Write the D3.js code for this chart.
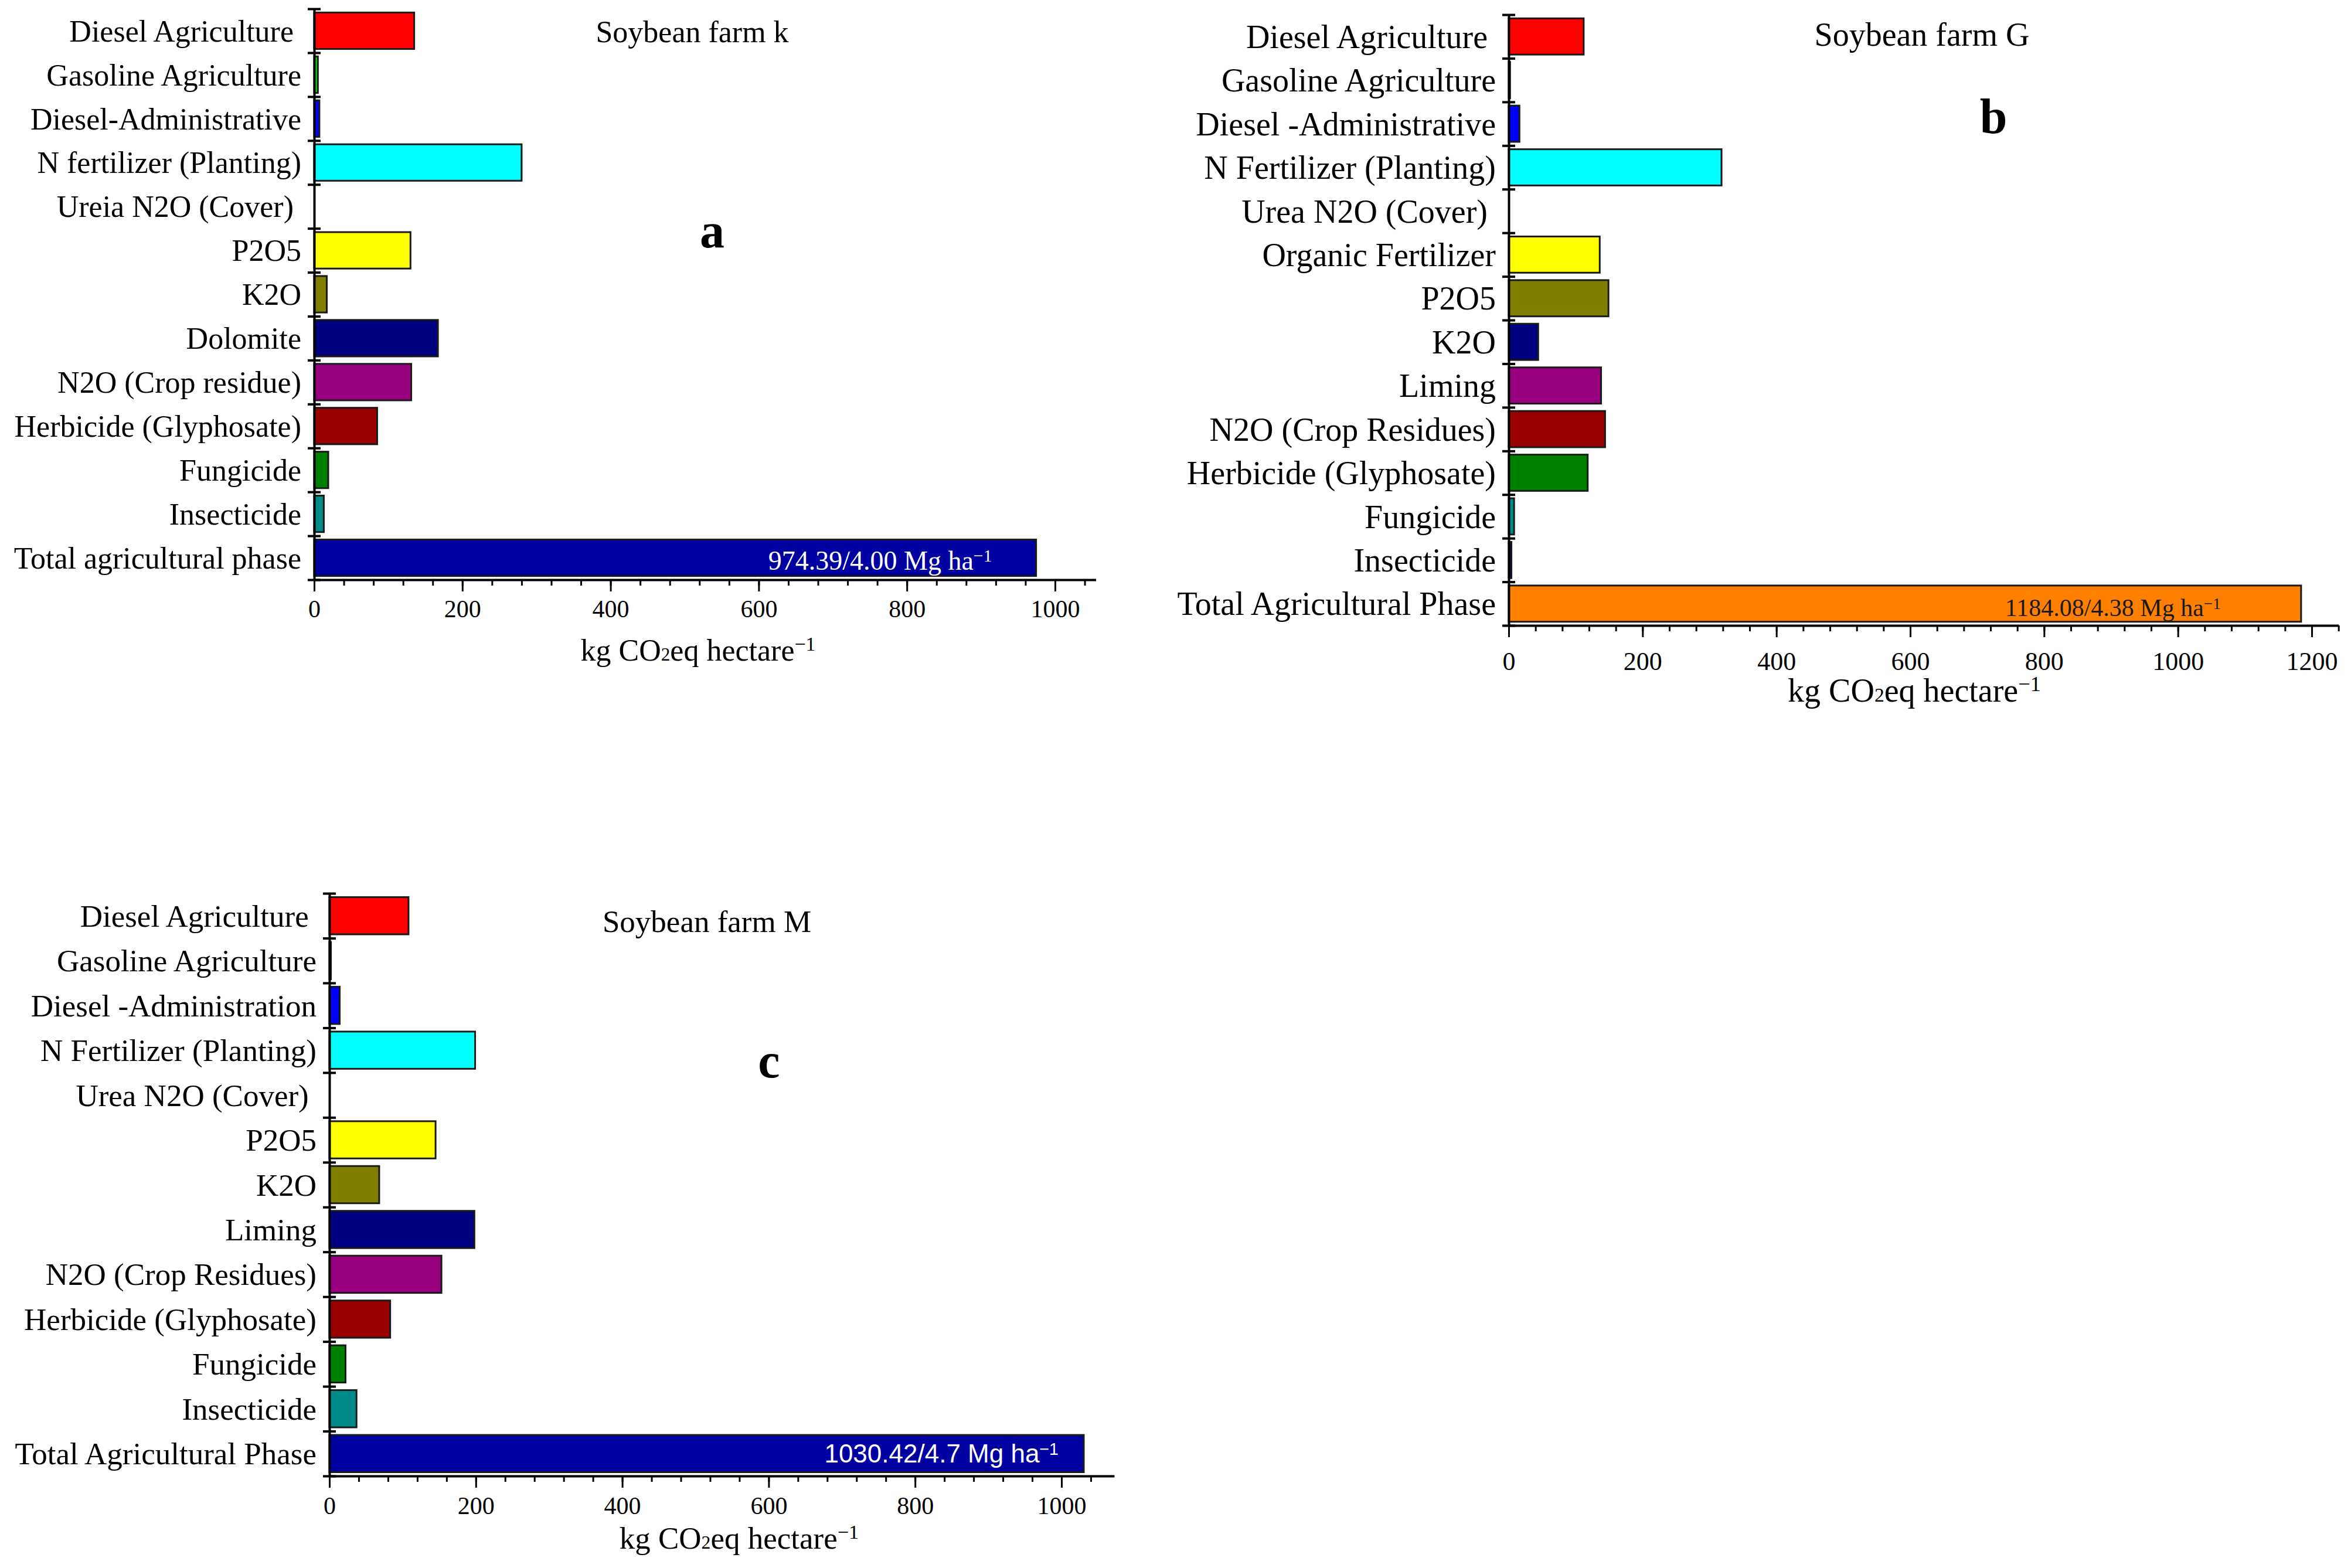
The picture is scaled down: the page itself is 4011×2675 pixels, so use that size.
<!DOCTYPE html>
<html>
<head>
<meta charset="utf-8">
<script src="https://cdn.jsdelivr.net/npm/d3@7"></script>
<style>
  body { margin: 0; background: #fff; }
  svg text { font-family: "Liberation Serif", "Times New Roman", serif; white-space: pre; fill: #000; }
</style>
</head>
<body>
<div id="chart"></div>
<script>
// Soybean farm k (panel a)
var labelsK = ["Diesel Agriculture ", "Gasoline Agriculture", "Diesel-Administrative", "N fertilizer (Planting)",
    "Ureia N2O (Cover) ", "P2O5", "K2O", "Dolomite", "N2O (Crop residue)", "Herbicide (Glyphosate)",
    "Fungicide", "Insecticide", "Total agricultural phase"];
var valuesK = [135, 5, 7, 280, 0, 130, 17, 167, 131, 85, 19, 13, 974.39];
var colorsK = ["#ff0000", "#00dd00", "#0000ff", "#00ffff", "#ffffff", "#ffff00", "#808000", "#000080",
    "#990080", "#990000", "#008000", "#008b8b", "#0000a0"];
var totalTextK = "974.39/4.00 Mg ha";

// Soybean farm G (panel b)
var labelsG = ["Diesel Agriculture ", "Gasoline Agriculture", "Diesel -Administrative", "N Fertilizer (Planting)",
    "Urea N2O (Cover) ", "Organic Fertilizer", "P2O5", "K2O", "Liming", "N2O (Crop Residues)",
    "Herbicide (Glyphosate)", "Fungicide", "Insecticide", "Total Agricultural Phase"];
var valuesG = [112, 2, 16, 318, 0, 136, 149, 44, 138, 144, 118, 8, 4, 1184.08];
var colorsG = ["#ff0000", "#008000", "#0000ff", "#00ffff", "#ffffff", "#ffff00", "#808000", "#000080",
    "#990080", "#990000", "#008000", "#008b8b", "#000080", "#ff8000"];
var totalTextG = "1184.08/4.38 Mg ha";

// Soybean farm M (panel c)
var labelsM = ["Diesel Agriculture ", "Gasoline Agriculture", "Diesel -Administration", "N Fertilizer (Planting)",
    "Urea N2O (Cover) ", "P2O5", "K2O", "Liming", "N2O (Crop Residues)", "Herbicide (Glyphosate)",
    "Fungicide", "Insecticide", "Total Agricultural Phase"];
var valuesM = [108, 2, 14, 199, 0, 145, 68, 198, 153, 83, 22, 37, 1030.42];
var colorsM = ["#ff0000", "#008000", "#0000ff", "#00ffff", "#ffffff", "#ffff00", "#808000", "#000080",
    "#990080", "#990000", "#008000", "#008b8b", "#0000a0"];
var totalTextM = "1030.42/4.7 Mg ha";

var svg = d3.select("#chart").append("svg")
    .attr("width", 4011)
    .attr("height", 2675);

// layout of each panel
var panels = [
    {labels: labelsK, values: valuesK, colors: colorsK, title: "Soybean farm k", letter: "a",
        x0: 536, unit: 1.264, xMax: 1055, top: 15, bottom: 989, font: 52, tickFont: 42, tickPad: 14,
        titleX: 1181, titleY: 72, letterX: 1215, letterY: 422, xLabelX: 1191, xLabelY: 1127,
        total: {text: totalTextK, fill: "#ffffff", family: "Liberation Serif", size: 46, dx: -75, dy: 20}},
    {labels: labelsG, values: valuesG, colors: colorsG, title: "Soybean farm G", letter: "b",
        x0: 2574, unit: 1.1417, xMax: 1240, top: 25, bottom: 1067, font: 56, tickFont: 44, tickPad: 25,
        titleX: 3279, titleY: 78, letterX: 3401, letterY: 227, xLabelX: 3266, xLabelY: 1197,
        total: {text: totalTextG, fill: "#1a1a1a", family: "Liberation Serif", size: 42, dx: -137, dy: 21}},
    {labels: labelsM, values: valuesM, colors: colorsM, title: "Soybean farm M", letter: "c",
        x0: 562, unit: 1.249, xMax: 1072, top: 1524, bottom: 2518, font: 53, tickFont: 42, tickPad: 15,
        titleX: 1206, titleY: 1590, letterX: 1312, letterY: 1838, xLabelX: 1261, xLabelY: 2642,
        total: {text: totalTextM, fill: "#ffffff", family: "Liberation Sans", size: 44, dx: -43, dy: 15}}
];

panels.forEach(drawPanel);

function drawPanel(p) {
    var n = p.labels.length;

    var x = d3.scaleLinear()
        .domain([0, p.xMax])
        .range([p.x0, p.x0 + p.xMax * p.unit]);

    var y = d3.scaleBand()
        .domain(d3.range(n))
        .range([p.top, p.bottom])
        .paddingInner(0.17)
        .paddingOuter(0.085);

    // category boundaries, used for the y-axis ticks
    var edge = d3.scaleLinear().domain([0, n]).range([p.top, p.bottom]);

    var g = svg.append("g");

    // Bars (zero values drawn as nothing)
    var rows = p.values.map(function(v, i) { return {v: v, i: i, c: p.colors[i]}; })
        .filter(function(d) { return d.v > 0; });

    g.selectAll("rect.bar")
        .data(rows)
        .enter()
        .append("rect")
        .attr("class", "bar")
        .attr("x", x(0))
        .attr("y", function(d) { return y(d.i); })
        .attr("width", function(d) { return x(d.v) - x(0); })
        .attr("height", y.bandwidth())
        .attr("fill", function(d) { return d.c; })
        .attr("stroke", "#1a1a1a")
        .attr("stroke-width", 3);

    // Category labels
    g.selectAll("text.cat")
        .data(p.labels)
        .enter()
        .append("text")
        .attr("class", "cat")
        .attr("x", p.x0 - 22)
        .attr("y", function(d, i) { return y(i) + y.bandwidth() / 2; })
        .attr("dy", "0.35em")
        .attr("text-anchor", "end")
        .style("font-size", p.font + "px")
        .text(function(d) { return d; });

    // x axis: minor ticks every 40, major every 200
    var gxMinor = g.append("g")
        .attr("transform", "translate(0," + p.bottom + ")")
        .call(d3.axisBottom(x)
            .tickValues(d3.range(0, p.xMax + 1, 40))
            .tickSize(10)
            .tickSizeOuter(0)
            .tickFormat(""));
    gxMinor.select(".domain").attr("stroke-width", 4);
    gxMinor.selectAll(".tick line").attr("stroke-width", 3);

    var gxMajor = g.append("g")
        .attr("transform", "translate(0," + p.bottom + ")")
        .call(d3.axisBottom(x)
            .tickValues(d3.range(0, p.xMax + 1, 200))
            .tickSize(20)
            .tickPadding(p.tickPad)
            .tickFormat(d3.format("d")));
    gxMajor.attr("font-family", null);
    gxMajor.select(".domain").remove();
    gxMajor.selectAll(".tick line").attr("stroke-width", 3);
    gxMajor.selectAll(".tick text")
        .style("font-family", "'Liberation Serif', 'Times New Roman', serif")
        .style("font-size", p.tickFont + "px");

    // y axis: line plus short crossing ticks at the category edges
    var gyL = g.append("g")
        .attr("transform", "translate(" + p.x0 + ",0)")
        .call(d3.axisLeft(edge).tickValues(d3.range(n + 1)).tickSize(11).tickSizeOuter(0).tickFormat(""));
    gyL.select(".domain").attr("stroke-width", 4);
    gyL.selectAll(".tick line").attr("stroke-width", 4);

    var gyR = g.append("g")
        .attr("transform", "translate(" + p.x0 + ",0)")
        .call(d3.axisRight(edge).tickValues(d3.range(n + 1)).tickSize(11).tickFormat(""));
    gyR.select(".domain").remove();
    gyR.selectAll(".tick line").attr("stroke-width", 4);

    // label inside the total bar
    var t = p.total;
    var tot = g.append("text")
        .attr("x", x(p.values[n - 1]) + t.dx)
        .attr("y", y(n - 1) + y.bandwidth() / 2 + t.dy)
        .attr("text-anchor", "end")
        .style("font-size", t.size + "px")
        .style("font-family", t.family)
        .style("fill", t.fill);
    tot.append("tspan").text(t.text);
    tot.append("tspan").attr("dy", "-0.45em").style("font-size", "0.65em").text("\u22121");

    // axis title
    var xl = g.append("text")
        .attr("x", p.xLabelX)
        .attr("y", p.xLabelY)
        .attr("text-anchor", "middle")
        .style("font-size", p.font + "px");
    xl.append("tspan").text("kg CO");
    xl.append("tspan").style("font-size", "0.6em").text("2");
    xl.append("tspan").text("eq hectare");
    xl.append("tspan").attr("dy", "-0.5em").style("font-size", "0.65em").text("\u22121");

    // panel title and letter
    g.append("text")
        .attr("x", p.titleX)
        .attr("y", p.titleY)
        .attr("text-anchor", "middle")
        .style("font-size", p.font + "px")
        .text(p.title);

    g.append("text")
        .attr("x", p.letterX)
        .attr("y", p.letterY)
        .attr("text-anchor", "middle")
        .style("font-size", "84px")
        .style("font-weight", "bold")
        .text(p.letter);
}
</script>
</body>
</html>
